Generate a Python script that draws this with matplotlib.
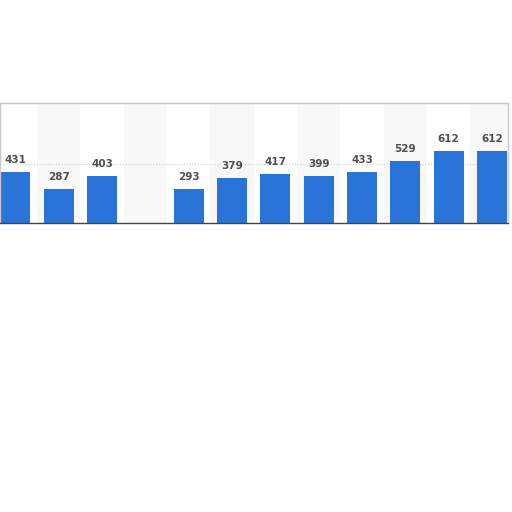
import numpy as np
import matplotlib
matplotlib.use("Agg")
import matplotlib.pyplot as plt

# valores (None = barra ausente)
values = [431, 287, 403, None, 293, 379, 417, 399, 433, 529, 612, 612]
grid_values = [500]

BAR = "#2a74d9"
BAND = "#f8f8f8"

fig = plt.figure(figsize=(5.12, 5.12), dpi=100)
ax = fig.add_axes([0.0, 1 - 223 / 512, 508 / 512, 120 / 512])

x = np.arange(len(values))
# bandas alternas de fondo
for i in x:
    if i % 2 == 1:
        ax.axvspan(i - 0.5, i + 0.5, color=BAND, lw=0, zorder=0)

for g in grid_values:
    ax.axhline(g, color="#cfcfcf", lw=0.8, ls=(0, (1, 1.5)), zorder=1)

for i, v in zip(x, values):
    if v is None:
        continue
    ax.bar(i, v, width=0.69, color=BAR, zorder=2)
    ax.annotate(f"{v}", (i, v), xytext=(0, 5), textcoords="offset points",
                ha="center", va="bottom", fontsize=7.5, fontweight="bold",
                color="#505050", zorder=3)

ax.set_xlim(-0.358, 11.37)
ax.set_ylim(0, 1020)
ax.set_xticks([]); ax.set_yticks([])
for s in ("top", "left", "right"):
    ax.spines[s].set_color("#c8c8c8")
    ax.spines[s].set_linewidth(1.0)
ax.spines["bottom"].set_color("#444444")
ax.spines["bottom"].set_linewidth(1.0)

fig.savefig("out.png", dpi=100)
